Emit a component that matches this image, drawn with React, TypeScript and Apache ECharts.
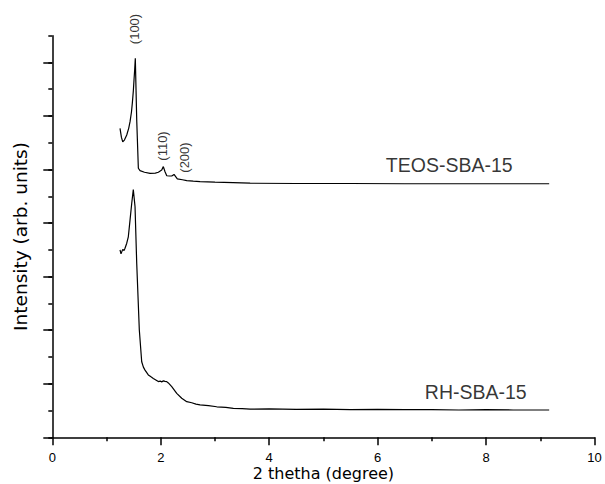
import React, { useEffect, useRef } from "react";
import * as echarts from "echarts";

// 2θ (degree) and intensity (arb. units) pairs
const teosX = [1.249, 1.275, 1.299, 1.33, 1.373, 1.41, 1.434, 1.46, 1.476, 1.495, 1.507, 1.52, 1.531, 1.557, 1.587, 1.618, 1.7, 1.803, 1.9, 1.956, 2.018, 2.048, 2.079, 2.111, 2.16, 2.203, 2.245, 2.306, 2.4, 2.48, 2.6, 2.725, 3.0, 3.334, 3.648, 4.5, 5.5, 6.5, 7.5, 8.5, 9.164];
const teosY = [11.54, 11.2, 11.04, 11.1, 11.29, 11.55, 11.79, 12.15, 12.48, 12.95, 13.35, 13.75, 14.16, 11.85, 10.05, 9.96, 9.9, 9.86, 9.87, 9.9, 9.98, 10.11, 9.92, 9.77, 9.76, 9.76, 9.82, 9.65, 9.62, 9.59, 9.57, 9.55, 9.53, 9.51, 9.49, 9.48, 9.48, 9.47, 9.47, 9.47, 9.47];

const rhX = [1.249, 1.267, 1.299, 1.323, 1.341, 1.373, 1.402, 1.434, 1.465, 1.494, 1.526, 1.557, 1.605, 1.649, 1.68, 1.71, 1.771, 1.82, 1.863, 1.956, 1.99, 2.018, 2.05, 2.079, 2.11, 2.14, 2.203, 2.295, 2.387, 2.48, 2.572, 2.65, 2.725, 2.88, 3.033, 3.2, 3.339, 3.5, 3.648, 4.0, 4.5, 5.0, 5.5, 6.0, 6.5, 7.0, 7.5, 8.0, 8.5, 9.164];
const rhY = [7.0, 6.85, 7.02, 6.98, 7.06, 7.25, 7.49, 8.12, 8.74, 9.25, 8.61, 6.5, 4.01, 2.82, 2.62, 2.51, 2.33, 2.26, 2.2, 2.08, 2.1, 2.07, 2.11, 2.09, 2.08, 2.03, 1.89, 1.64, 1.46, 1.33, 1.29, 1.24, 1.21, 1.18, 1.14, 1.12, 1.08, 1.07, 1.05, 1.06, 1.04, 1.05, 1.03, 1.04, 1.03, 1.03, 1.02, 1.03, 1.02, 1.02];

// peak labels and sample names with their anchor points (data coords)
const peakLabels = ["(100)", "(110)", "(200)"];
const peakX = [1.51, 2.033, 2.439];
const peakY = [15.25, 10.88, 10.45];

const sampleLabels = ["TEOS-SBA-15", "RH-SBA-15"];
const sampleX = [7.32, 7.81];
const sampleY = [10.16, 1.69];

const xTicks = [0, 2, 4, 6, 8, 10];
const yMajorTicks = [0, 2, 4, 6, 8, 10, 12, 14];

export default function App() {
  const ref = useRef<HTMLDivElement>(null);
  useEffect(() => {
    document.body.style.margin = "0";
    if (!ref.current) return;
    const chart = echarts.init(ref.current, undefined, { renderer: "svg" });
    const sans = "Liberation Sans, Arial, sans-serif";
    const wide = "DejaVu Sans, sans-serif";
    const lineStyle = { color: "#000", width: 1.5 };
    chart.setOption({
      animation: false,
      backgroundColor: "#fff",
      grid: { left: 52.3, right: 10.5, top: 35.7, bottom: 46.7, outerBoundsMode: "none", containLabel: false },
      xAxis: {
        type: "value",
        min: xTicks[0],
        max: xTicks[xTicks.length - 1],
        interval: 2,
        name: "2 thetha (degree)",
        nameLocation: "middle",
        nameGap: 28,
        nameMoveOverlap: false,
        nameTextStyle: { fontFamily: wide, fontSize: 16, color: "#000", lineHeight: 17 },
        axisLine: { lineStyle },
        axisTick: { show: true, inside: false, length: 8, lineStyle },
        minorTick: { show: true, splitNumber: 2, length: 4, lineStyle },
        splitLine: { show: false },
        minorSplitLine: { show: false },
        axisLabel: { fontFamily: sans, fontSize: 13, color: "#000", margin: 14, lineHeight: 13 },
      },
      yAxis: [
        {
          type: "value",
          min: 0,
          max: 15,
          interval: 1,
          name: "Intensity (arb. units)",
          nameLocation: "middle",
          nameGap: 22,
          nameMoveOverlap: false,
          nameTextStyle: { fontFamily: wide, fontSize: 18.5, color: "#000" },
          axisLine: { show: true, lineStyle },
          axisTick: { show: true, inside: false, length: 4, lineStyle },
          axisLabel: { show: false },
          splitLine: { show: false },
        },
        {
          type: "value",
          position: "left",
          min: 0,
          max: 15,
          interval: 1,
          axisLine: { show: false },
          axisTick: { show: true, inside: false, length: 9, lineStyle, customValues: yMajorTicks },
          axisLabel: { show: false },
          splitLine: { show: false },
        },
      ],
      series: [
        {
          type: "line",
          data: teosX.map((x, i) => [x, teosY[i]]),
          showSymbol: false,
          symbol: "none",
          lineStyle: { color: "#000", width: 1.2 },
          silent: true,
        },
        {
          type: "line",
          data: rhX.map((x, i) => [x, rhY[i]]),
          showSymbol: false,
          symbol: "none",
          lineStyle: { color: "#000", width: 1.2 },
          silent: true,
        },
        {
          type: "scatter",
          clip: false,
          silent: true,
          symbolSize: 0,
          data: peakLabels.map((n, i) => ({ name: n, value: [peakX[i], peakY[i]] })),
          label: {
            show: true,
            position: "inside",
            rotate: 90,
            formatter: "{b}",
            fontFamily: sans,
            fontSize: 13,
            color: "#000",
          },
        },
        {
          type: "scatter",
          clip: false,
          silent: true,
          symbolSize: 0,
          data: sampleLabels.map((n, i) => ({ name: n, value: [sampleX[i], sampleY[i]] })),
          label: {
            show: true,
            position: "inside",
            formatter: "{b}",
            fontFamily: sans,
            fontSize: 19.5,
            color: "#000",
          },
        },
      ],
    });
    return () => chart.dispose();
  }, []);
  return <div ref={ref} style={{ width: 605, height: 484 }} />;
}
